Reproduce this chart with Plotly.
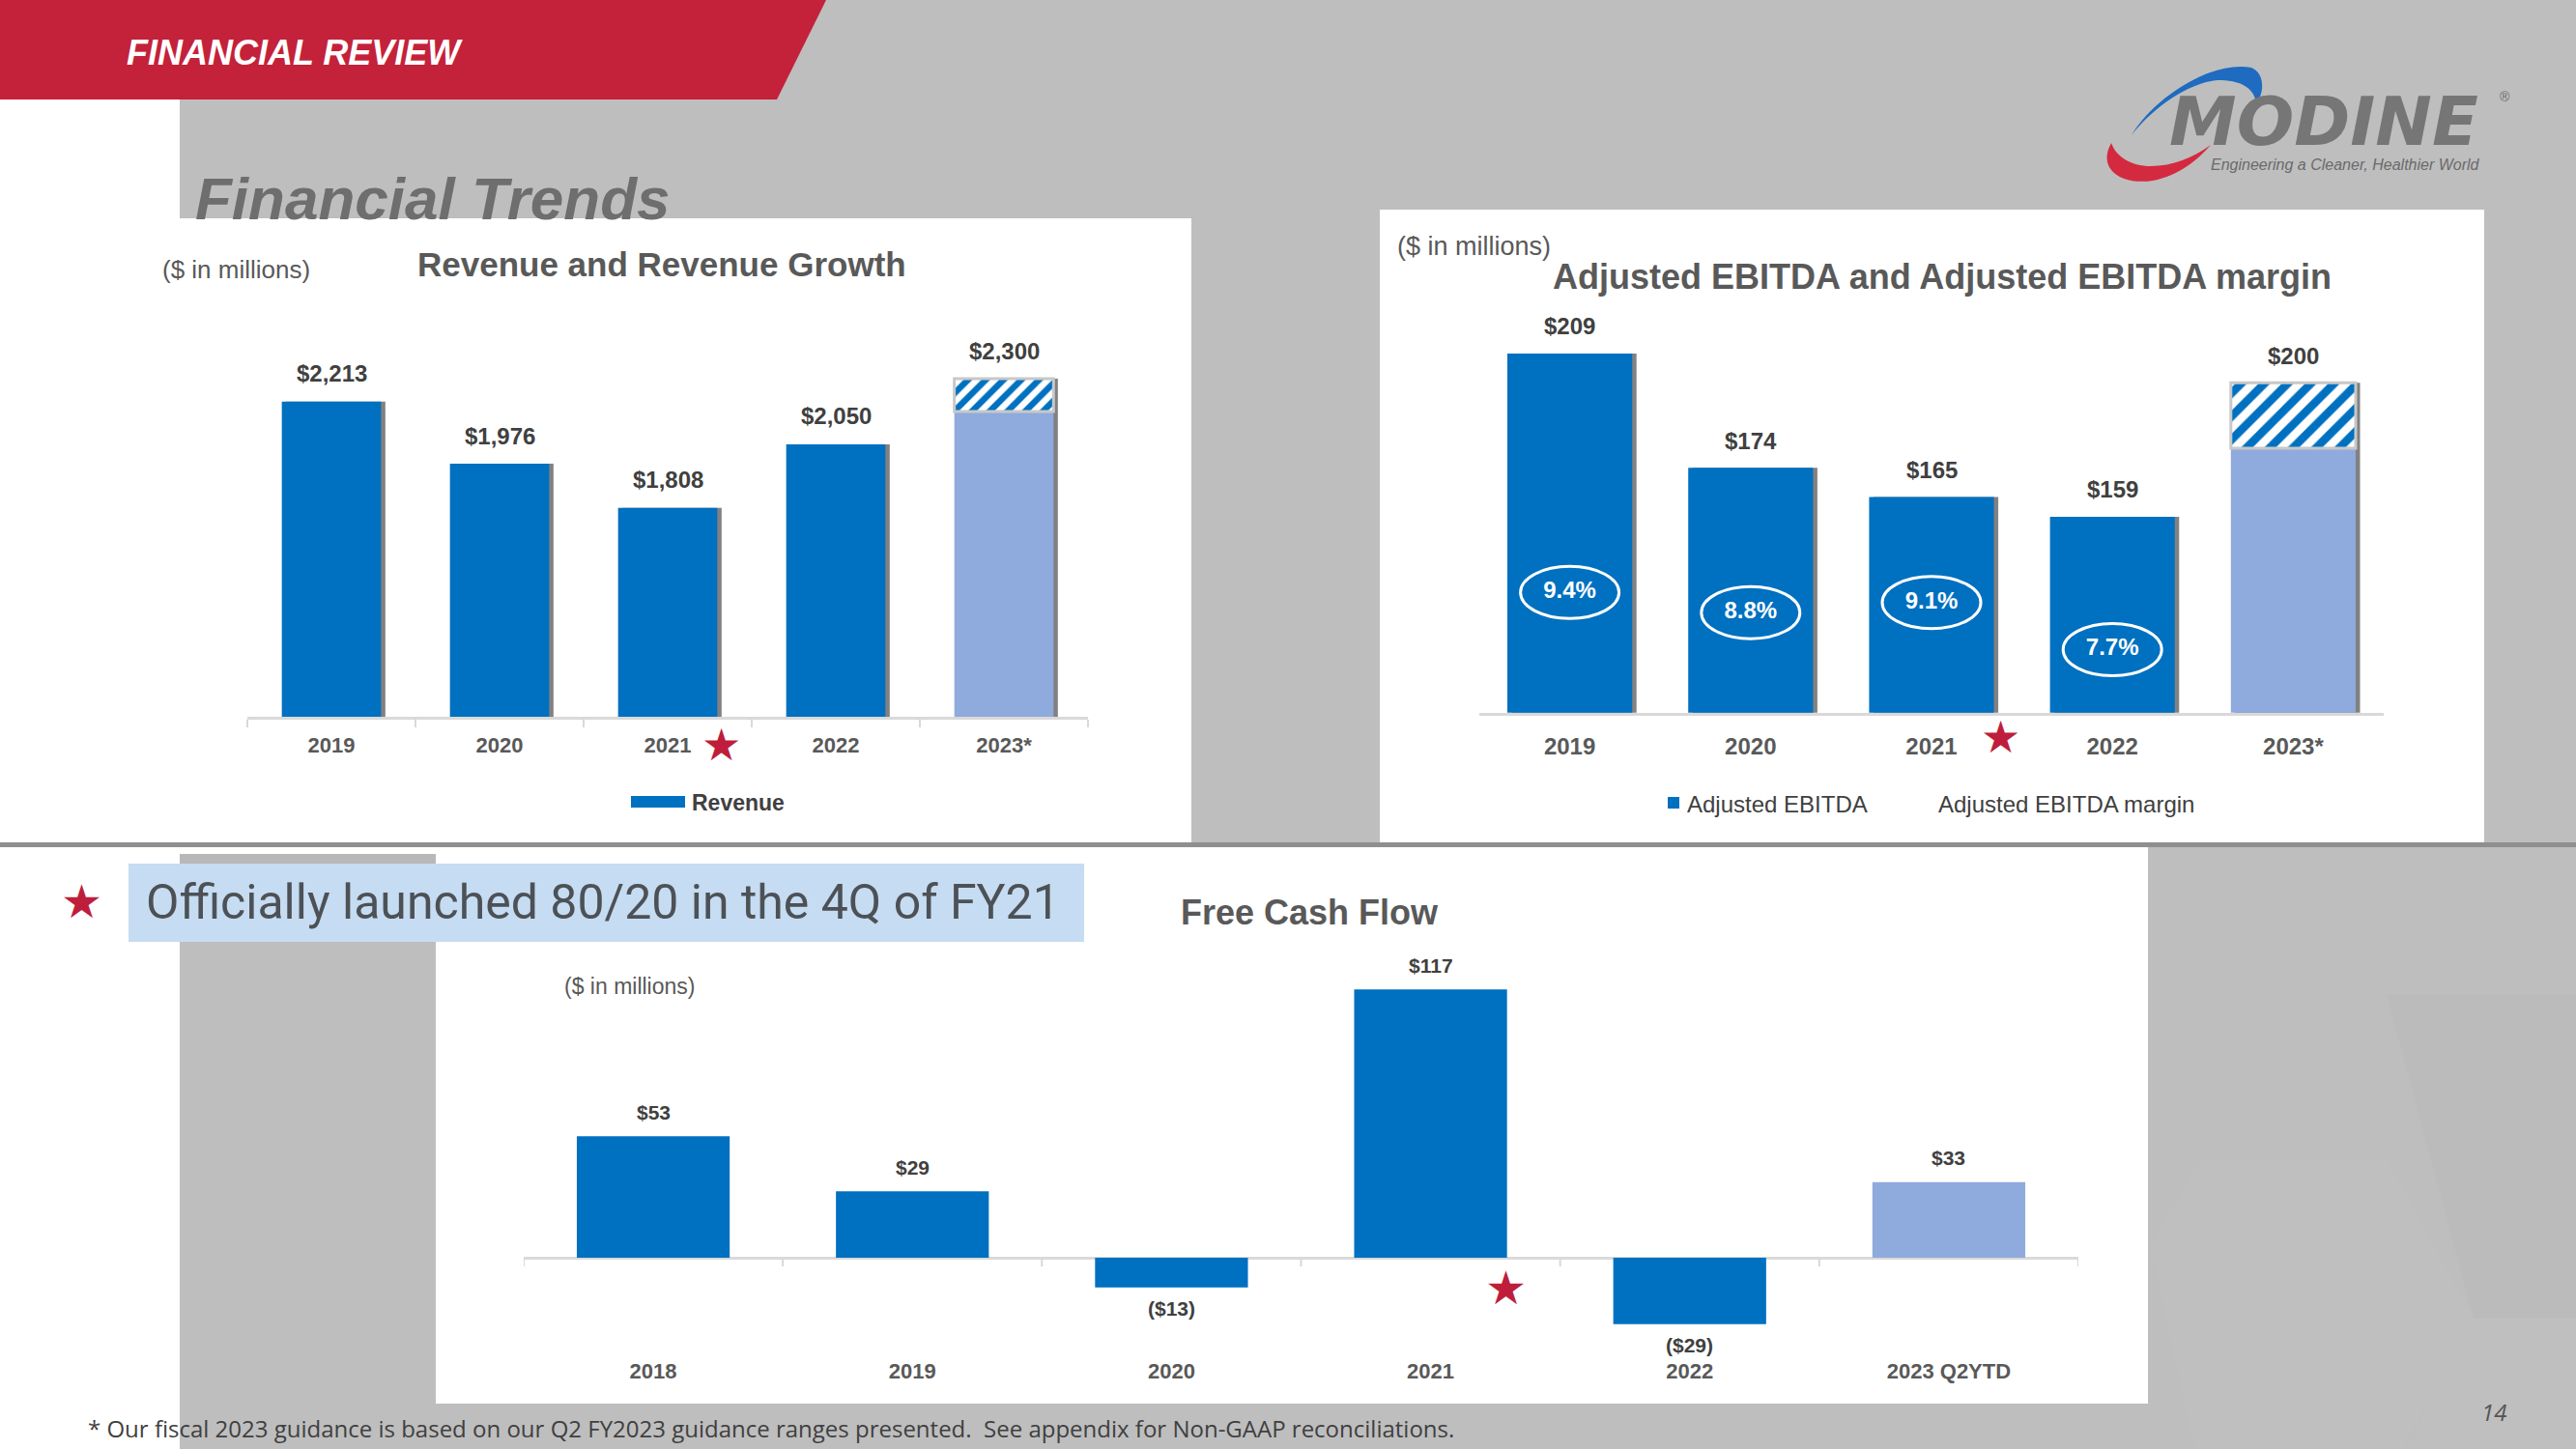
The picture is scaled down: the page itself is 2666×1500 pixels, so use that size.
import plotly.graph_objects as go

# ---------------- data ----------------
rev_years = ["2019", "2020", "2021", "2022", "2023*"]
rev_values = [2213, 1976, 1808, 2050, 2300]
rev_2023_low = 2175          # lower end of FY23 guidance (hatched range up to 2,300)

ebitda_years = ["2019", "2020", "2021", "2022", "2023*"]
ebitda_values = [209, 174, 165, 159, 200]
ebitda_2023_low = 180        # lower end of FY23 guidance (hatched range up to 200)
ebitda_margin = [9.4, 8.8, 9.1, 7.7]   # % (2019-2022)

fcf_years = ["2018", "2019", "2020", "2021", "2022", "2023 Q2YTD"]
fcf_values = [53, 29, -13, 117, -29, 33]

# ---------------- styling ----------------
W, H = 2666, 1500
BLUE = "#0070C0"
LIGHT = "#8FAADC"
GRAY_BG = "#BEBEBE"
RED = "#C4213A"
STAR_RED = "#BE1E3C"
TXT = "#404040"
TXT2 = "#595959"
ARIAL = "Liberation Sans, Arial, sans-serif"


def px(x):
    return x / W


def py(y):
    return 1 - y / H


def rect(x0, y0, x1, y1, color, layer="below"):
    return dict(type="rect", xref="paper", yref="paper", x0=px(x0), x1=px(x1),
                y0=py(y1), y1=py(y0), fillcolor=color, line_width=0, layer=layer)


def path_shape(cmds, color, layer="below"):
    # cmds: list of (letter, [x, y, ...]) in pixel coords; L takes one point, C takes three
    out = []
    for letter, pts in cmds:
        coords = [f"{px(pts[i]):.5f},{py(pts[i + 1]):.5f}" for i in range(0, len(pts), 2)]
        out.append(letter + coords[0] + ("" if len(coords) == 1 else " " + " ".join(coords[1:])))
    return dict(type="path", xref="paper", yref="paper", path=" ".join(out) + " Z",
                fillcolor=color, line_width=0, layer=layer)


def poly(points, color, layer="below"):
    cmds = [("M", list(points[0]))] + [("L", list(p)) for p in points[1:]]
    return path_shape(cmds, color, layer)


def money(v):
    return f"${v:,}" if v >= 0 else f"(${abs(v):,})"


fig = go.Figure()
SHADOW = "rgba(25,25,25,0.55)"

# ---------------- Revenue chart ----------------
rw = 0.59
rdx = 4.5 / 174
fig.add_trace(go.Bar(x=rev_years, y=rev_values, width=rw, offset=-rw / 2 + rdx,
                     marker=dict(color=SHADOW, line_width=0),
                     xaxis="x", yaxis="y", hoverinfo="skip", showlegend=False))
fig.add_trace(go.Bar(x=rev_years[:-1], y=rev_values[:-1], width=rw, name="Revenue",
                     marker=dict(color=BLUE, line_width=0), xaxis="x", yaxis="y"))
fig.add_trace(go.Bar(x=rev_years[-1:], y=[rev_2023_low], width=rw, name="Revenue 2023 (low)",
                     marker=dict(color=LIGHT, line_width=0), xaxis="x", yaxis="y",
                     showlegend=False))
fig.add_trace(go.Bar(x=rev_years[-1:], y=[rev_values[-1] - rev_2023_low], base=[rev_2023_low],
                     width=rw, name="Revenue 2023 range",
                     marker=dict(color="white", line=dict(color="#C8C8C8", width=3),
                                 pattern=dict(shape="/", fgcolor=BLUE, bgcolor="white",
                                              fgopacity=1, size=13, solidity=0.5)),
                     xaxis="x", yaxis="y", showlegend=False))

# ---------------- EBITDA chart ----------------
ew = 0.69
edx = 4.5 / 187
fig.add_trace(go.Bar(x=ebitda_years, y=ebitda_values, width=ew, offset=-ew / 2 + edx,
                     marker=dict(color=SHADOW, line_width=0),
                     xaxis="x2", yaxis="y2", hoverinfo="skip", showlegend=False))
fig.add_trace(go.Bar(x=ebitda_years[:-1], y=ebitda_values[:-1], width=ew, name="Adjusted EBITDA",
                     marker=dict(color=BLUE, line_width=0), xaxis="x2", yaxis="y2"))
fig.add_trace(go.Bar(x=ebitda_years[-1:], y=[ebitda_2023_low], width=ew,
                     marker=dict(color=LIGHT, line_width=0), xaxis="x2", yaxis="y2",
                     showlegend=False))
fig.add_trace(go.Bar(x=ebitda_years[-1:], y=[ebitda_values[-1] - ebitda_2023_low],
                     base=[ebitda_2023_low], width=ew,
                     marker=dict(color="white", line=dict(color="#C8C8C8", width=3),
                                 pattern=dict(shape="/", fgcolor=BLUE, bgcolor="white",
                                              fgopacity=1, size=17, solidity=0.5)),
                     xaxis="x2", yaxis="y2", showlegend=False))
fig.add_trace(go.Scatter(x=ebitda_years[:len(ebitda_margin)], y=ebitda_margin, mode="text",
                         text=[f"{m}%" for m in ebitda_margin], name="Adjusted EBITDA margin",
                         textfont=dict(family=ARIAL, size=24, color="white", weight="bold"),
                         xaxis="x2", yaxis="y4", cliponaxis=False))

# ---------------- Free cash flow chart ----------------
fw = 0.59
fig.add_trace(go.Bar(x=fcf_years, y=fcf_values, width=fw, name="Free Cash Flow",
                     marker=dict(color=[BLUE] * (len(fcf_values) - 1) + [LIGHT], line_width=0),
                     xaxis="x3", yaxis="y3"))

shapes = []
annotations = []

# ---------------- page background ----------------
# very faint hexagons in the grey background
shapes.append(poly([(2278, 1200), (2470, 1200), (2560, 1365), (2470, 1530), (2278, 1530),
                    (2225, 1290)], "rgba(255,255,255,0.025)"))
shapes.append(poly([(2560, 1365), (2700, 1365), (2700, 1500), (2490, 1500)],
                   "rgba(255,255,255,0.02)"))
shapes.append(poly([(2470, 1030), (2700, 1030), (2700, 1365), (2560, 1365)],
                   "rgba(0,0,0,0.015)"))
shapes.append(rect(0, 103, 186, 1500, "white"))
shapes.append(rect(0, 226, 1233, 872, "white"))
shapes.append(rect(1428, 217, 2571, 872, "white"))
shapes.append(rect(0, 877, 2223, 1453, "white"))
shapes.append(rect(186, 884, 451, 1500, GRAY_BG))
shapes.append(rect(186, 884, 451, 894, "#B8B8B8"))
shapes.append(rect(0, 872, W, 877, "#8F8F8F"))
# red banner
shapes.append(poly([(0, 0), (855, 0), (804, 103), (0, 103)], RED))
# light blue call-out box
shapes.append(rect(133, 894, 1122, 975, "#C5DCF2"))
# logo swooshes
shapes.append(path_shape([("M", [2206, 140]), ("C", [2230, 100, 2290, 62, 2330, 70]),
                          ("C", [2345, 76, 2343, 98, 2335, 107]),
                          ("C", [2333, 90, 2318, 83, 2295, 83]),
                          ("C", [2262, 86, 2225, 115, 2206, 140])], "#1E6BC0"))
shapes.append(path_shape([("M", [2185, 148]), ("C", [2170, 175, 2195, 192, 2228, 187]),
                          ("C", [2255, 182, 2275, 165, 2288, 150]),
                          ("C", [2270, 163, 2248, 172, 2226, 172]),
                          ("C", [2205, 172, 2190, 162, 2185, 148])], "#D42A3F"))

# FCF axis ticks at the zero line (category boundaries)
for i in range(len(fcf_years) + 1):
    shapes.append(dict(type="line", xref="x3", yref="y3", x0=i - 0.5, x1=i - 0.5,
                       ysizemode="pixel", yanchor=0, y0=0, y1=-9,
                       line=dict(color="#D9D9D9", width=2), layer="below"))

# EBITDA margin ellipses
for i, m in enumerate(ebitda_margin):
    shapes.append(dict(type="circle", xref="x2", yref="y4", xsizemode="pixel", ysizemode="pixel",
                       xanchor=i, yanchor=m, x0=-51, x1=51, y0=-27, y1=27,
                       line=dict(color="white", width=3), fillcolor="rgba(0,0,0,0)"))

# legends (manual, to match the slide's flat legend keys)
shapes.append(rect(653, 824, 709, 836, BLUE, layer="above"))
shapes.append(rect(1726, 825, 1738, 837, BLUE, layer="above"))


def ann(text, x, y, size, color=TXT2, family=ARIAL, xanchor="left", weight="normal",
        style="normal", **kw):
    d = dict(text=text, x=px(x), y=py(y), xref="paper", yref="paper", showarrow=False,
             xanchor=xanchor, yanchor="middle",
             font=dict(family=family, size=size, color=color, weight=weight, style=style))
    d.update(kw)
    return d


annotations += [
    ann("FINANCIAL REVIEW", 129, 54, 36, color="white", weight="bold", style="italic"),
    ann("Financial Trends", 200, 206, 62, color="#6E6E6E", weight="bold", style="italic"),
    ann("($ in millions)", 166, 279, 26),
    ann("Revenue and Revenue Growth", 430, 274, 35, weight="bold"),
    ann("Revenue", 714, 831, 23, color=TXT, weight="bold"),
    ann("($ in millions)", 1444, 255, 27),
    ann("Adjusted EBITDA and Adjusted EBITDA margin", 1605, 286, 36, weight="bold"),
    ann("Adjusted EBITDA", 1744, 832, 24, color=TXT),
    ann("Adjusted EBITDA margin", 2004, 832, 24, color=TXT),
    ann("Officially launched 80/20 in the 4Q of FY21", 149, 934, 50, color="#4D5156",
        family="Roboto, sans-serif"),
    ann("Free Cash Flow", 1220, 944, 36, weight="bold"),
    ann("($ in millions)", 582, 1021, 23),
    ann("* Our fiscal 2023 guidance is based on our Q2 FY2023 guidance ranges presented.  "
        "See appendix for Non-GAAP reconciliations.", 89, 1478, 24, color=TXT,
        family="Open Sans, sans-serif"),
    ann("14", 2581, 1461, 24, color="#555555", family="Open Sans, sans-serif",
        xanchor="center", style="italic"),
    ann("MODINE", 2405, 126, 70, color="#767676", family="DejaVu Sans, sans-serif",
        xanchor="center", weight="bold", style="italic"),
    ann("Engineering a Cleaner, Healthier World", 2427, 171, 16, color="#6A6A6A",
        family=ARIAL, xanchor="center", style="italic"),
    ann("®", 2592, 100, 14, color="#6A6A6A", xanchor="center"),
    ann("★", 84, 933, 48, color=STAR_RED, family="DejaVu Sans", xanchor="center"),
]

# chart stars (next to 2021 in each chart)
star_font = dict(size=46, color=STAR_RED, family="DejaVu Sans")
annotations.append(dict(text="★", xref="x", yref="paper", x=rev_years.index("2021") + 0.32,
                        y=py(771), yanchor="middle", xanchor="center", showarrow=False,
                        font=star_font))
annotations.append(dict(text="★", xref="x2", yref="paper", x=ebitda_years.index("2021") + 0.38,
                        y=py(763), yanchor="middle", xanchor="center", showarrow=False,
                        font=star_font))
annotations.append(dict(text="★", xref="x3", yref="paper", x=fcf_years.index("2021") + 0.29,
                        y=py(1333), yanchor="middle", xanchor="center", showarrow=False,
                        font=dict(size=48, color=STAR_RED, family="DejaVu Sans")))

# value labels (x given as category index)
lab_font = dict(family=ARIAL, size=24, color=TXT, weight="bold")
for i, v in enumerate(rev_values):
    annotations.append(dict(text=money(v), xref="x", yref="y", x=i, y=v, yshift=29,
                            showarrow=False, yanchor="middle", xanchor="center", font=lab_font))
for i, v in enumerate(ebitda_values):
    annotations.append(dict(text=money(v), xref="x2", yref="y2", x=i, y=v, yshift=28,
                            showarrow=False, yanchor="middle", xanchor="center", font=lab_font))
for i, v in enumerate(fcf_values):
    annotations.append(dict(text=money(v), xref="x3", yref="y3", x=i, y=v,
                            yshift=25 if v >= 0 else -22, showarrow=False, yanchor="middle",
                            xanchor="center",
                            font=dict(family=ARIAL, size=21, color=TXT, weight="bold")))

tickfont = dict(family=ARIAL, size=22, color=TXT2, weight="bold")
fig.update_layout(
    width=W, height=H, margin=dict(l=0, r=0, t=0, b=0),
    paper_bgcolor=GRAY_BG, plot_bgcolor="rgba(0,0,0,0)",
    barmode="overlay", showlegend=False,
    shapes=shapes, annotations=annotations,
    xaxis=dict(domain=[px(256), px(1126)], type="category", range=[-0.5, 4.5], anchor="y",
               showline=True, linecolor="#D9D9D9", linewidth=3, ticks="outside",
               tickson="boundaries", ticklen=8, tickwidth=2, tickcolor="#D9D9D9",
               tickfont=tickfont, ticklabelstandoff=8, showgrid=False),
    yaxis=dict(domain=[py(742), py(330)], range=[1012, 1012 + (742 - 330) / 0.2717],
               visible=False, anchor="x"),
    xaxis2=dict(domain=[px(1531), px(2467)], type="category", range=[-0.5, 4.5], anchor="y2",
                showline=True, linecolor="#D9D9D9", linewidth=3, ticks="",
                tickfont=dict(family=ARIAL, size=24, color=TXT2, weight="bold"),
                ticklabelstandoff=11, showgrid=False),
    yaxis2=dict(domain=[py(737.7), py(320)], range=[99, 99 + (737.7 - 320) / 3.38],
                visible=False, anchor="x2"),
    yaxis4=dict(overlaying="y2", range=[5.825, 17.83], visible=False, anchor="x2"),
    xaxis3=dict(domain=[px(542), px(2151)], type="category", range=[-0.5, 5.5], anchor="y3",
                showline=False, ticks="", tickfont=tickfont, ticklabelstandoff=4,
                showgrid=False),
    yaxis3=dict(domain=[py(1400), py(980)], range=[-(1400 - 1302) / 2.373, (1302 - 980) / 2.373],
                showticklabels=False, showgrid=False, showline=False, ticks="",
                zeroline=True, zerolinecolor="#D9D9D9", zerolinewidth=3, anchor="x3"),
)

fig.write_html("out.html", config={"displayModeBar": False},
               post_script="document.body.style.margin='0';")
